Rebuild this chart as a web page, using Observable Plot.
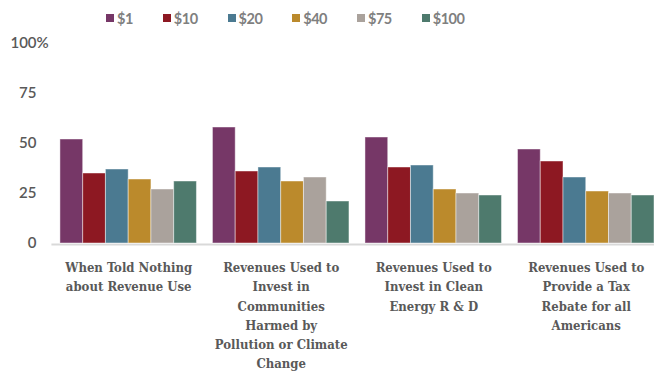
<!DOCTYPE html>
<html>
<head>
<meta charset="utf-8">
<script src="https://cdn.jsdelivr.net/npm/d3@7"></script>
<script src="https://cdn.jsdelivr.net/npm/@observablehq/plot@0.6"></script>
<style>
  html, body { margin: 0; padding: 0; background: #fff; }
  #chart { width: 654px; }
  .lg-swatches-wrap { box-sizing: border-box; min-height: 30px !important; height: 30px; padding-top: 6px; margin: 0 0 0 106px !important; font: 700 14.5px Lato, sans-serif; letter-spacing: -0.5px; color: #7f7f7f; }
  .lg-swatches-wrap .lg-swatch { margin-right: 30px !important; }
  .lg-swatches-wrap .lg-swatch svg { margin-right: 3px !important; }
</style>
</head>
<body>
<div id="chart"></div>
<script>
// Support for a carbon price, by price level and by how the revenue is used
const groups = [
  "When Told Nothing\nabout Revenue Use",
  "Revenues Used to\nInvest in\nCommunities\nHarmed by\nPollution or Climate\nChange",
  "Revenues Used to\nInvest in Clean\nEnergy R & D",
  "Revenues Used to\nProvide a Tax\nRebate for all\nAmericans"
];
const prices = ["$1", "$10", "$20", "$40", "$75", "$100"];
const colors = ["#763767", "#8d1822", "#4b7a91", "#bb8a2c", "#aaa29c", "#4e7a6d"];

// percent support, one array per group, in price order
const toldNothing   = [52, 35, 37, 32, 27, 31];
const communities   = [58, 36, 38, 31, 33, 21];
const cleanEnergy   = [53, 38, 39, 27, 25, 24];
const taxRebate     = [47, 41, 33, 26, 25, 24];

const yTicks = [0, 25, 50, 75];

const series = [toldNothing, communities, cleanEnergy, taxRebate];
const rows = groups.flatMap((g, gi) => prices.map((p, pi) => ({group: g, price: p, value: series[gi][pi]})));

const chart = Plot.plot({
  width: 654,
  height: 343,
  marginTop: 13,
  marginLeft: 52,
  marginRight: 0,
  marginBottom: 130,
  style: {fontFamily: "Lato, sans-serif", color: "#595959", background: "#fff"},
  fx: {domain: groups, paddingInner: 0.105, paddingOuter: 0.026, align: 1, round: false, label: null},
  x: {domain: prices, padding: 0, round: false, axis: null},
  y: {domain: [0, 100], axis: null},
  color: {domain: prices, range: colors},
  marks: [
    // baseline across all groups, reaching back toward the y labels
    Plot.frame({anchor: "bottom", facet: "super", stroke: "#d9d9d9", strokeWidth: 2, dy: 1, insetLeft: -8}),
    Plot.barY(rows, {fx: "group", x: "price", y: "value", fill: "price", stroke: "#fff", strokeOpacity: 0.45, strokeWidth: 1}),
    Plot.axisY(yTicks, {anchor: "left", label: null, tickSize: 0, tickPadding: 24, fontSize: 15, fontWeight: 600, fill: "#595959"}),
    Plot.axisY([100], {anchor: "left", label: null, tickSize: 0, tickPadding: 50, textAnchor: "start", tickFormat: d => d + "%", fontSize: 15, fontWeight: 600, fill: "#595959"}),
    Plot.axisFx({anchor: "bottom", tickSize: 0, tickPadding: 15, lineHeight: 1.48, fontSize: 13, fontWeight: "bold", fontFamily: "'DejaVu Serif Condensed', 'DejaVu Serif', serif", letterSpacing: -0.5, fill: "#595959", textAnchor: "middle", label: null})
  ]
});

const legend = Plot.legend({
  color: {domain: prices, range: colors},
  legend: "swatches",
  swatchSize: 8,
  className: "lg"
});

const host = document.getElementById("chart");
host.append(legend, chart);
</script>
</body>
</html>
